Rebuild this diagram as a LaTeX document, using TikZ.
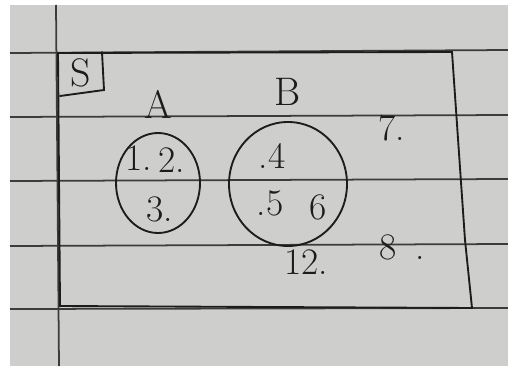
\documentclass[tikz,border=0pt]{standalone}
\usepackage{tikz}
\usetikzlibrary{shapes.geometric, positioning, calc}
\definecolor{paper}{RGB}{206,206,204}
\definecolor{ruling}{RGB}{60,60,60}
\definecolor{pen}{RGB}{28,28,28}
\tikzset{
    rule/.style={draw=ruling, line width=1.5pt},
    penline/.style={draw=pen, line width=1.6pt, line cap=round},
    setring/.style={ellipse, draw=pen, line width=1.6pt, inner sep=0pt},
    entry/.style={text=pen, font=\fontsize{32}{36}\selectfont, inner sep=0pt},
    setname/.style={text=pen, font=\fontsize{34}{38}\selectfont, inner sep=0pt},
}
\begin{document}
\begin{tikzpicture}[x=0.03cm, y=-0.03cm]
    \useasboundingbox (0,0) rectangle (508,366);
    \fill[white] (0,0) rectangle (508,366);
    \fill[paper] (10,5) rectangle (508,366);
    % ruled paper
    \draw[rule] (10,53) -- (508,50);
    \draw[rule] (10,117) -- (508,115);
    \draw[rule] (10,181) -- (508,179);
    \draw[rule] (10,246) -- (508,244);
    \draw[rule] (10,309) -- (508,308);
    \draw[rule] (56,5) -- (59,366);
    % universal set
    \draw[penline] (58,53) -- (452,52) -- (465,240) -- (472,308) -- (60,306) -- cycle;
    \draw[penline] (60,96) -- (104,90) -- (102,52);
    \node[setname] (uni) at (81,73) {S};
    % sets A and B
    \node[setring, minimum width=2.52cm, minimum height=3.0cm] (ringA) at (158,183) {};
    \node[setring, minimum width=3.54cm, minimum height=3.72cm] (ringB) at (288,184) {};
    \node[setname, above=0.4cm of ringA] (nameA) {A};
    \node[setname, above=0.45cm of ringB] (nameB) {B};
    % elements
    \node[entry] (one) at (139,158) {1.};
    \node[entry] (two) at (172,160) {2.};
    \node[entry] (three) at (160,209) {3.};
    \node[entry] (four) at (272,156) {.4};
    \node[entry] (five) at (270,203) {.5};
    \node[entry] (six) at (318,207) {6};
    \node[entry] (twelve) at (306,262) {12.};
    \node[entry] (seven) at (392,128) {7.};
    \node[entry] (eight) at (402,247) {8\enspace.};
\end{tikzpicture}
\end{document}
